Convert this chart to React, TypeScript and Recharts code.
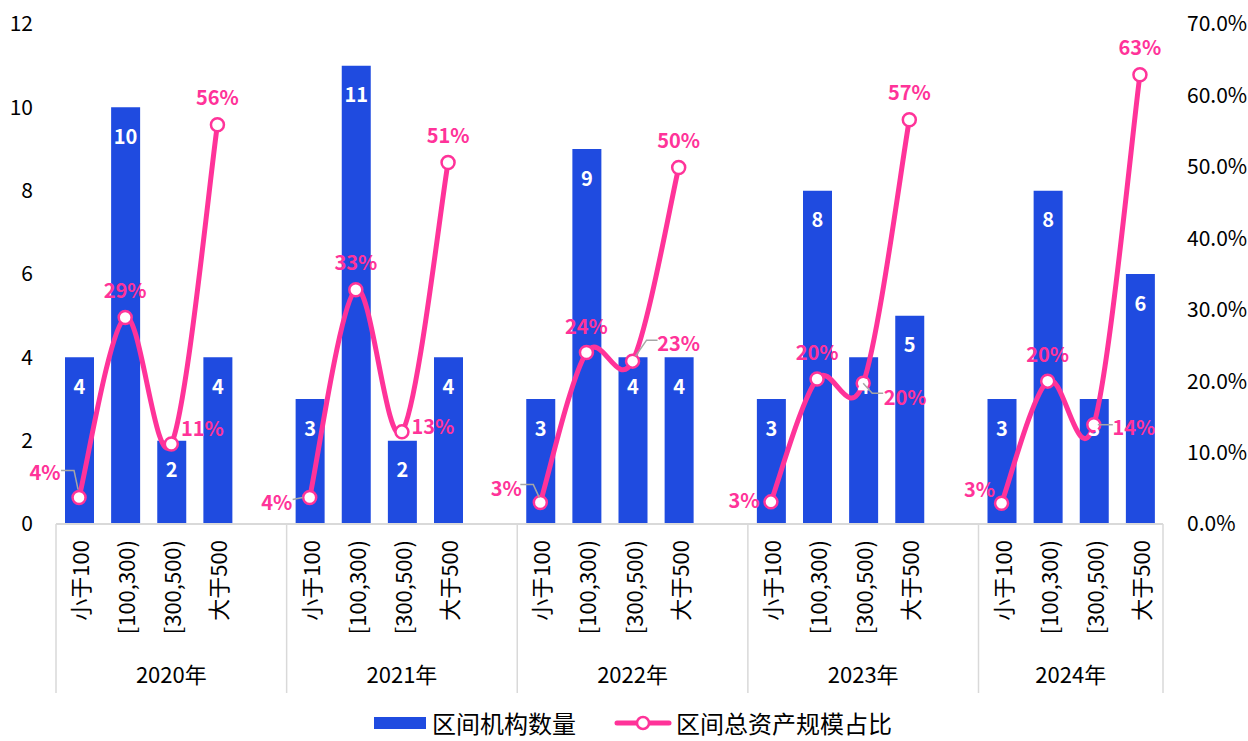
import { Bar, ComposedChart, LabelList, Legend, Line, XAxis, YAxis } from "recharts";

const years = ["2020年", "2021年", "2022年", "2023年", "2024年"];
const ranges = ["小于100", "[100,300)", "[300,500)", "大于500"];
const institutionCounts = [
  [4, 10, 2, 4],
  [3, 11, 2, 4],
  [3, 9, 4, 4],
  [3, 8, 4, 5],
  [3, 8, 3, 6],
];
// 区间总资产规模占比 (%)
const assetShares = [
  [3.7, 28.9, 11.2, 55.9],
  [3.7, 32.8, 12.9, 50.6],
  [3.0, 24.0, 22.8, 49.9],
  [3.1, 20.3, 19.7, 56.6],
  [2.9, 20.0, 13.9, 62.9],
];
const countTicks = [0, 2, 4, 6, 8, 10, 12];
const shareTicks = [0, 10, 20, 30, 40, 50, 60, 70];

// where each share label sits relative to its marker (with optional leader line)
type Placement = { dx: number; dy: number; leader?: [number, number][] };
const shareLabelPlacement: Placement[][] = [
  [
    { dx: -34, dy: -26, leader: [[-18, -27], [-5, -27], [-1, -8]] },
    { dx: 0, dy: -28 },
    { dx: 31, dy: -17 },
    { dx: 0, dy: -28 },
  ],
  [
    { dx: -33, dy: 4, leader: [[-17, 2], [-7, 0]] },
    { dx: 0, dy: -28 },
    { dx: 31, dy: -6 },
    { dx: 0, dy: -28 },
  ],
  [
    { dx: -34, dy: -15, leader: [[-20, -18], [-7, -18], [-1, -5]] },
    { dx: 0, dy: -27 },
    { dx: 46, dy: -19, leader: [[25, -21], [14, -21], [3, -5]] },
    { dx: 0, dy: -28 },
  ],
  [
    { dx: -27, dy: -2 },
    { dx: 0, dy: -28 },
    { dx: 42, dy: 13, leader: [[0, 0], [9, 10], [20, 10]] },
    { dx: 0, dy: -28 },
  ],
  [
    { dx: -22, dy: -15 },
    { dx: 0, dy: -28 },
    { dx: 40, dy: 2, leader: [[4, 0], [19, 0]] },
    { dx: 0, dy: -28 },
  ],
];

const BLUE = "#1F4BE0";
const PINK = "#FF3399";
const GRID = "#D9D9D9";
const FONT = "'Noto Sans CJK SC', 'Noto Sans', sans-serif";

const CHART_W = 1248;
const CHART_H = 741;
const LEFT_W = 56;
const RIGHT_W = 85;

type Row = {
  id: string;
  year: string;
  group: number;
  pos: number;
  cat: string;
  count: number | null;
  share: number | null;
};

const chartData: Row[] = [];
years.forEach((year, g) => {
  ranges.forEach((cat, p) => {
    chartData.push({
      id: `${g}-${p}`,
      year,
      group: g,
      pos: p,
      cat,
      count: institutionCounts[g][p],
      share: assetShares[g][p],
    });
  });
  // blank slot between year groups
  if (g < years.length - 1) {
    chartData.push({ id: `${g}-gap`, year, group: g, pos: -1, cat: "", count: null, share: null });
  }
});
const rowById = new Map(chartData.map((r, i) => [r.id, { ...r, index: i }]));
const SLOT = (CHART_W - LEFT_W - RIGHT_W) / chartData.length;

// Excel-like smoothing (Catmull-Rom through the points)
const smoothCurve = (context: any) => {
  let pts: [number, number][] = [];
  return {
    areaStart() {},
    areaEnd() {},
    lineStart() {
      pts = [];
    },
    point(x: number, y: number) {
      pts.push([+x, +y]);
    },
    lineEnd() {
      if (!pts.length) return;
      context.moveTo(pts[0][0], pts[0][1]);
      for (let i = 0; i < pts.length - 1; i++) {
        const p0 = pts[i - 1] || pts[i];
        const p1 = pts[i];
        const p2 = pts[i + 1];
        const p3 = pts[i + 2] || p2;
        context.bezierCurveTo(
          p1[0] + (p2[0] - p0[0]) / 6,
          p1[1] + (p2[1] - p0[1]) / 6,
          p2[0] - (p3[0] - p1[0]) / 6,
          p2[1] - (p3[1] - p1[1]) / 6,
          p2[0],
          p2[1]
        );
      }
    },
  };
};

const CategoryTick = (props: any) => {
  const { x, y, payload } = props;
  const row = rowById.get(payload.value);
  if (!row) return <g />;
  const half = SLOT / 2;
  const slots = row.group < years.length - 1 ? ranges.length + 1 : ranges.length;
  return (
    <g>
      <text
        transform={`translate(${x},${y + 16}) rotate(-90)`}
        textAnchor="end"
        dominantBaseline="central"
        fontSize={22}
        fontFamily={FONT}
        fill="#000"
      >
        {row.cat}
      </text>
      {row.pos === 0 && (
        <>
          <line x1={x - half} x2={x - half} y1={y} y2={y + 169} stroke={GRID} strokeWidth={1.5} />
          <text
            x={x - half + (slots * SLOT) / 2}
            y={y + 149}
            textAnchor="middle"
            dominantBaseline="central"
            fontSize={22}
            fontFamily={FONT}
            fill="#000"
          >
            {row.year}
          </text>
        </>
      )}
      {row.index === chartData.length - 1 && (
        <line x1={x + half} x2={x + half} y1={y} y2={y + 169} stroke={GRID} strokeWidth={1.5} />
      )}
    </g>
  );
};

const renderCountLabel = (props: any) => {
  const { x, y, width, value } = props;
  if (value == null) return null;
  return (
    <text
      x={x + width / 2}
      y={y + 28}
      textAnchor="middle"
      dominantBaseline="central"
      fill="#fff"
      fontSize={20}
      fontWeight="bold"
      fontFamily={FONT}
    >
      {value}
    </text>
  );
};

const renderShareLabel = (props: any) => {
  const { x, y, value, index } = props;
  if (value == null || x == null || y == null) return null;
  const row = chartData[index];
  const place = shareLabelPlacement[row.group][row.pos];
  return (
    <g>
      {place.leader && (
        <polyline
          points={place.leader.map(([lx, ly]) => `${x + lx},${y + ly}`).join(" ")}
          fill="none"
          stroke="#A6A6A6"
          strokeWidth={1.5}
        />
      )}
      <text
        x={x + place.dx}
        y={y + place.dy}
        textAnchor="middle"
        dominantBaseline="central"
        fill={PINK}
        fontSize={20}
        fontWeight="bold"
        fontFamily={FONT}
      >
        {`${Math.round(value)}%`}
      </text>
    </g>
  );
};

const renderDot = (props: any) => {
  const { cx, cy, index } = props;
  if (cx == null || cy == null) return <g key={`d-${index}`} />;
  return <circle key={`d-${index}`} cx={cx} cy={cy} r={6.5} fill="#fff" stroke={PINK} strokeWidth={2.5} />;
};

const LegendContent = () => (
  <div
    style={{
      display: "flex",
      justifyContent: "center",
      alignItems: "center",
      paddingTop: 13,
      paddingLeft: 18,
      height: 22,
      fontFamily: FONT,
      fontSize: 24,
      lineHeight: "22px",
      color: "#000",
    }}
  >
    <span style={{ display: "inline-block", width: 52, height: 12, background: BLUE, marginRight: 6 }} />
    <span>区间机构数量</span>
    <svg width={58} height={16} style={{ marginLeft: 38, marginRight: 4 }}>
      <line x1={3} x2={55} y1={8} y2={8} stroke={PINK} strokeWidth={5} strokeLinecap="round" />
      <circle cx={29} cy={8} r={6} fill="#fff" stroke={PINK} strokeWidth={2.5} />
    </svg>
    <span>区间总资产规模占比</span>
  </div>
);

export default function App() {
  return (
    <div style={{ position: "absolute", left: 0, top: 0, width: CHART_W, height: CHART_H, background: "#fff" }}>
      <ComposedChart
        width={CHART_W}
        height={CHART_H}
        data={chartData}
        margin={{ top: 24, right: 0, bottom: 0, left: 0 }}
      >
        <XAxis
          dataKey="id"
          interval={0}
          height={175}
          tickSize={0}
          tickMargin={0}
          tickLine={false}
          axisLine={{ stroke: GRID, strokeWidth: 2 }}
          tick={<CategoryTick />}
        />
        <YAxis
          yAxisId="left"
          width={LEFT_W}
          domain={[0, 12]}
          ticks={countTicks}
          axisLine={false}
          tickLine={false}
          tickSize={0}
          tickMargin={23}
          tick={{ fontSize: 21, fill: "#000", fontFamily: FONT }}
        />
        <YAxis
          yAxisId="right"
          orientation="right"
          width={RIGHT_W}
          domain={[0, 70]}
          ticks={shareTicks}
          axisLine={false}
          tickLine={false}
          tickSize={0}
          tickMargin={24}
          tickFormatter={(v: number) => `${v.toFixed(1)}%`}
          tick={{ fontSize: 21, fill: "#000", fontFamily: FONT }}
        />
        <Legend verticalAlign="bottom" height={42} content={<LegendContent />} />
        <Bar yAxisId="left" dataKey="count" name="区间机构数量" fill={BLUE} barSize={29} isAnimationActive={false}>
          <LabelList dataKey="count" content={renderCountLabel} />
        </Bar>
        <Line
          yAxisId="right"
          dataKey="share"
          name="区间总资产规模占比"
          type={smoothCurve as any}
          stroke={PINK}
          strokeWidth={5}
          dot={renderDot}
          activeDot={false}
          connectNulls={false}
          label={renderShareLabel}
          isAnimationActive={false}
        />
      </ComposedChart>
    </div>
  );
}
